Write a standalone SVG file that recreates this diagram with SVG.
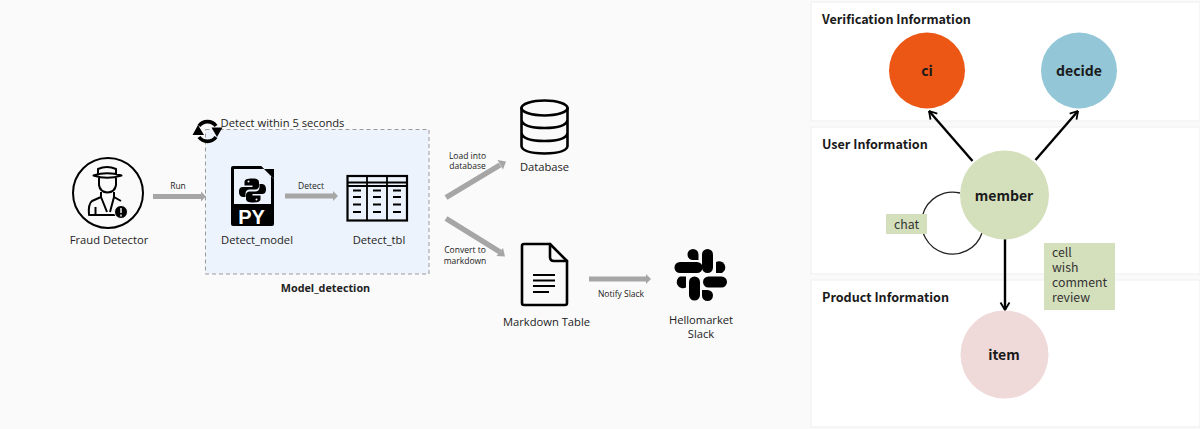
<svg xmlns="http://www.w3.org/2000/svg" width="1200" height="429" viewBox="0 0 1200 429">
<style>
text{font-family:"Open Sans","Noto Sans","Liberation Sans",sans-serif;fill:#222}
.l{font-size:11.200px;text-anchor:middle}
.s{font-size:8.500px;text-anchor:middle}
.h{font-family:"Noto Sans CJK KR","Noto Sans",sans-serif;font-size:12.600px;font-weight:700;fill:#1a1a1a}
.n{font-family:"Noto Sans CJK KR","Noto Sans",sans-serif;font-size:14px;font-weight:700;text-anchor:middle;fill:#1a1a1a}
.t{font-family:"Noto Sans CJK KR","Noto Sans",sans-serif;font-size:12.300px;fill:#333}
.panel{fill:#fff;stroke:#f3f3f3;stroke-width:1.5}
.ga{stroke:#a6a6a6;stroke-width:5;fill:none}
.gh{fill:#a6a6a6}
.ic{fill:none;stroke:#000;stroke-width:2.6;stroke-linejoin:round;stroke-linecap:round}
.bk{stroke:#000;stroke-width:2;fill:none;stroke-linejoin:round}
</style>
<defs>
<marker id="open" viewBox="0 0 10 12" refX="9.500" refY="6" markerWidth="10" markerHeight="12" markerUnits="userSpaceOnUse" orient="auto"><path d="M2 1.500L9.500 6L2 10.500" fill="none" stroke="#000" stroke-width="1.800"/></marker>
</defs>
<rect width="1200" height="429" fill="#fafafa"/>
<rect class="panel" x="811" y="2" width="389" height="119"/>
<rect class="panel" x="811" y="127" width="389" height="147"/>
<rect class="panel" x="811" y="280" width="389" height="147"/>

<g id="model-box">
<rect x="205.500" y="129.500" width="223.500" height="144.500" fill="#edf3fd" stroke="#9a9a9a" stroke-dasharray="4 3"/>
<text x="282.500" y="127" style="font-size:11.200px" text-anchor="middle">Detect within 5 seconds</text>
<text x="325.500" y="292" style="font-size:10.800px;font-weight:700" text-anchor="middle">Model_detection</text>
</g>
<g id="refresh">
<path d="M199 126A10.500 10.500 0 0 1 216 126M216 137A10.500 10.500 0 0 1 199 137" fill="none" stroke="#000" stroke-width="3.600"/>
<path d="M211.500 127.500H222.500L217 137ZM192.500 135H204L198 125Z" fill="#000"/>
</g>

<g id="connectors">
<path class="ga" d="M153 196.500H201"/><path class="gh" d="M201 191.500L206 196.500L201 201.500Z"/>
<path class="ga" d="M285 196H333"/><path class="gh" d="M333 191L338 196L333 201Z"/>
<path class="ga" style="stroke-width:5.500" d="M446 197.500L500 165"/><path class="gh" d="M497.500 160L506 161.500L503 169.500Z"/>
<path class="ga" style="stroke-width:5.500" d="M446 218.500L500 252"/><path class="gh" d="M503 248L505 256.500L496.500 256Z"/>
<path class="ga" d="M589 279H646"/><path class="gh" d="M646 274L651 279L646 284Z"/>
<path d="M972.500 161L929 111" fill="none" stroke="#000" stroke-width="2.400" marker-end="url(#open)"/>
<path d="M1035.500 160L1078 111" fill="none" stroke="#000" stroke-width="2.400" marker-end="url(#open)"/>
<path d="M1005 239V310" fill="none" stroke="#000" stroke-width="2.400" marker-end="url(#open)"/>
<path d="M960 193A31 31 0 1 0 982 233" fill="none" stroke="#222" stroke-width="1.300"/>
</g>
<text class="s" x="178" y="189">Run</text>
<text class="s" x="311" y="189">Detect</text>
<text class="s" x="467.500" y="159">Load into</text>
<text class="s" x="467.500" y="169">database</text>
<text class="s" x="465" y="253">Convert to</text>
<text class="s" x="465" y="264">markdown</text>
<text class="s" x="621" y="297">Notify Slack</text>

<g id="fraud-detector">
<circle cx="108" cy="193" r="35" fill="none" stroke="#000" stroke-width="2"/>
<path class="bk" d="M98 175L98 169Q107 165 116 169L116 175M93.500 175.500Q107 171 121.500 175.500Q107 180 93.500 175.500ZM99 178V185Q100 192 107.500 192.500Q115 192 116 185V178"/>
<path class="bk" d="M101 192V197L92 201Q88 204 89 215H116M114 192V197L121 201M101 197L107 212M114 197L110 212M95.500 207V215"/>
<circle cx="121" cy="212" r="6.500" fill="#000" stroke="#fff" stroke-width="1"/>
<path d="M121 208V213M121 214.500V216.500" stroke="#fff" stroke-width="1.400"/>
<text class="l" x="109" y="244">Fraud Detector</text>
</g>
<g id="detect-model">
<path d="M233 166H261L274 179V224Q274 226 272 226H233Q231 226 231 224V168Q231 166 233 166Z" fill="#000"/>
<rect x="234" y="169" width="37" height="35" fill="#edf3fd"/>
<path d="M261 166L274 179V169H261Z" fill="#000"/><path d="M262 168.500L271 177.500H262Z" fill="#edf3fd"/>
<path d="M252.500 178.500C247 178.500 244.500 179.500 244.500 182V185.500H252.500V187H242.500C239.500 187 239 190 239 192C239 194 240 197 243 197H245.500V193.500C245.500 191 247.500 189.500 249.500 189.500H255.500C257.500 189.500 259 188 259 186V182C259 179.500 256 178.500 252.500 178.500Z" fill="#000"/>
<path d="M252.500 202.500C258 202.500 260.500 201.500 260.500 199V195.500H252.500V194H262.500C265.500 194 266 191 266 189C266 187 265 184 262 184H259.500V187.500C259.500 190 257.500 191.500 255.500 191.500H249.500C247.500 191.500 246 193 246 195V199C246 201.500 249 202.500 252.500 202.500Z" fill="#000"/>
<circle cx="248.500" cy="181.500" r="1" fill="#edf3fd"/><circle cx="256.500" cy="199.500" r="1" fill="#edf3fd"/>
<text x="251.500" y="223.500" style="font-family:'Liberation Sans',sans-serif;font-size:20px;font-weight:700;fill:#fff" text-anchor="middle">PY</text>
<text class="l" x="257" y="244">Detect_model</text>
</g>
<g id="detect-tbl">
<rect x="347.500" y="176" width="59.500" height="44.500" fill="none" stroke="#000" stroke-width="2.200"/>
<path d="M347 182.500H407M347 186H407M367 176V220M387 176V220" fill="none" stroke="#000" stroke-width="1.800"/>
<path d="M353 190.500H361M373 190.500H381M393 190.500H401M353 197H361M373 197H381M393 197H401M353 204.500H361M373 204.500H381M393 204.500H401M353 212H361M373 212H381M393 212H401" stroke="#000" stroke-width="2"/>
<text class="l" x="379" y="244">Detect_tbl</text>
</g>
<g id="database">
<ellipse cx="544.500" cy="108" rx="23" ry="7.500" class="ic"/>
<path class="ic" d="M521.500 108V146Q522 153 544.500 153.500Q567 153 567.500 146V108M521.500 120Q523 128 544.500 128Q566 128 567.500 120M521.500 133Q523 141 544.500 141Q566 141 567.500 133"/>
<text class="l" x="544.500" y="171">Database</text>
</g>
<g id="markdown-table">
<path class="ic" d="M524 244H550L567 261V303Q567 305 565 305H524Q522 305 522 303V246Q522 244 524 244Z"/>
<path class="ic" d="M550 244V257Q550 261 554 261H567"/>
<path d="M533 275H555M533 280.500H555M533 286H555M533 292H549" stroke="#000" stroke-width="2"/>
<text class="l" x="546.500" y="326">Markdown Table</text>
</g>
<g id="slack">
<g fill="#000">
<rect x="674.500" y="262" width="28" height="11" rx="5.500"/>
<path d="M698.500 260V254.500A5.500 5.500 0 1 0 693 260Z"/>
<rect x="702" y="249" width="11" height="24" rx="5.500"/>
<path d="M716 273H722A5.500 5.500 0 1 0 716 262Z"/>
<rect x="703" y="276.500" width="24" height="11" rx="5.500"/>
<path d="M702 290V295.500A5.500 5.500 0 1 0 707.500 290Z"/>
<rect x="689" y="276.500" width="11" height="24" rx="5.500"/>
<path d="M686 276.500H680A5.500 5.500 0 1 0 686 287.500Z"/>
</g>
<text class="l" x="701" y="324">Hellomarket</text>
<text class="l" x="701" y="338">Slack</text>
</g>

<text class="h" x="822" y="24">Verification Information</text>
<text class="h" x="822" y="149">User Information</text>
<text class="h" x="822" y="302">Product Information</text>

<g id="ci"><circle cx="927" cy="70.500" r="38" fill="#ec5715"/><text class="n" x="927" y="76">ci</text></g>
<g id="decide"><circle cx="1079" cy="70.500" r="38" fill="#93c6d6"/><text class="n" x="1079" y="76">decide</text></g>
<g id="member"><circle cx="1004.500" cy="195" r="44.500" fill="#d4dfbc"/><text class="n" x="1004" y="201">member</text></g>
<g id="item"><circle cx="1004.500" cy="354.500" r="44" fill="#f0d9d9"/><text class="n" x="1004" y="360">item</text></g>
<g id="chat-label"><rect x="886" y="214" width="41" height="20" fill="#d4dfbc"/><text class="t" x="906.500" y="229" text-anchor="middle">chat</text></g>
<g id="relation-label"><rect x="1044" y="243" width="71" height="67" fill="#d4dfbc"/>
<text class="t" x="1052" y="257">cell<tspan x="1052" dy="15">wish</tspan><tspan x="1052" dy="15">comment</tspan><tspan x="1052" dy="15">review</tspan></text></g>
</svg>
